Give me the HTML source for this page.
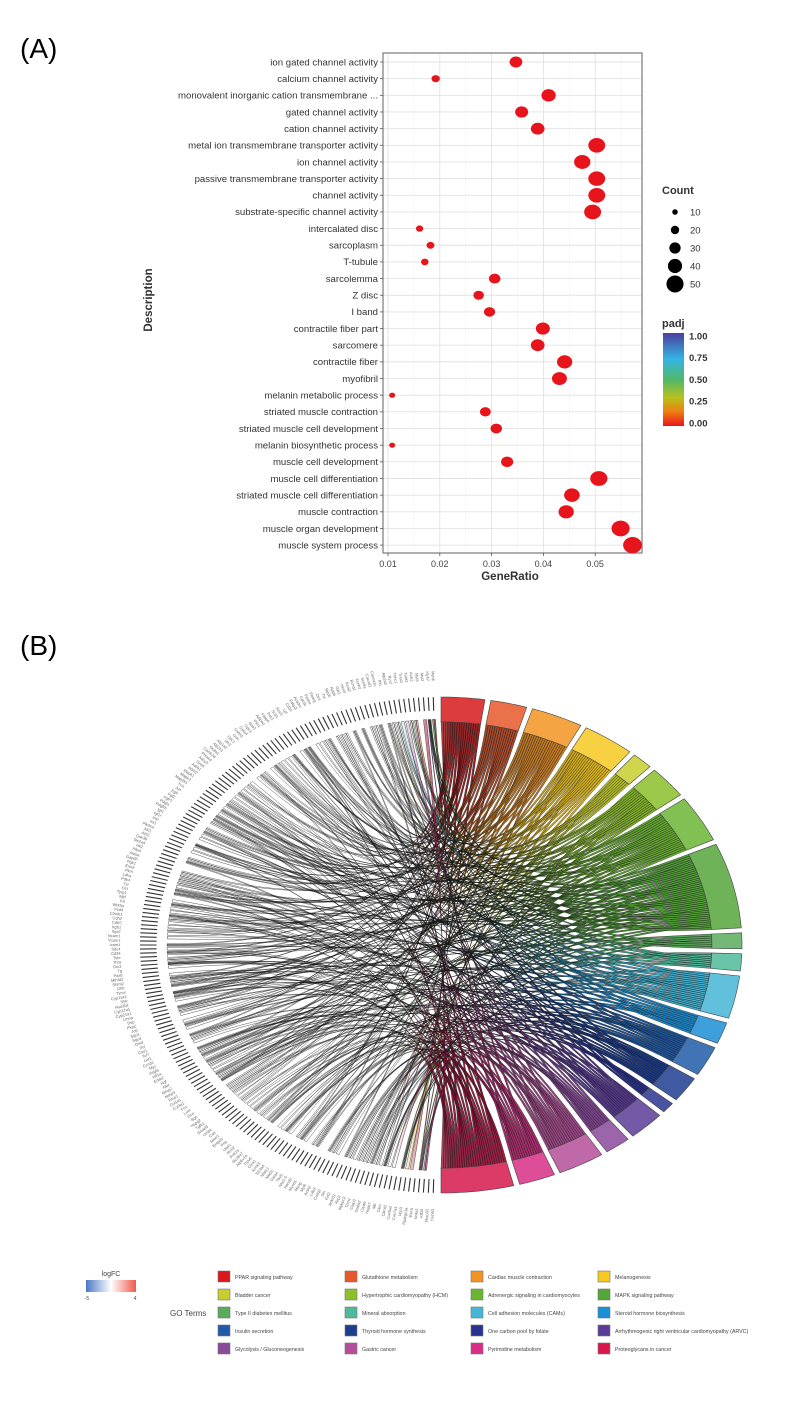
<!DOCTYPE html>
<html><head><meta charset="utf-8"><style>
html,body{margin:0;padding:0;background:#fff}
svg{display:block;font-family:"Liberation Sans",sans-serif}
</style></head><body>
<svg id="root" width="787" height="1402" viewBox="0 0 787 1402" xmlns="http://www.w3.org/2000/svg">
<defs>
<linearGradient id="padjGrad" x1="0" y1="1" x2="0" y2="0">
<stop offset="0" stop-color="#e8141b"/><stop offset="0.15" stop-color="#f07b12"/><stop offset="0.3" stop-color="#b9c21a"/><stop offset="0.5" stop-color="#50b86a"/><stop offset="0.72" stop-color="#34b4e4"/><stop offset="1" stop-color="#4b3f9e"/>
</linearGradient>
<linearGradient id="fcGrad" x1="0" y1="0" x2="1" y2="0">
<stop offset="0" stop-color="#4a78c8"/><stop offset="0.5" stop-color="#ffffff"/><stop offset="1" stop-color="#ee5a4a"/>
</linearGradient>
</defs>
<text x="20" y="58" font-size="28" font-family="Liberation Sans Narrow, Liberation Sans, sans-serif">(A)</text>
<text x="20" y="655" font-size="28" font-family="Liberation Sans Narrow, Liberation Sans, sans-serif">(B)</text>
<g id="dotplot"></g>
<g id="chord"></g>
<g id="legendB"></g>
</svg>
<script>
const NS="http://www.w3.org/2000/svg";
// ---------- Dot plot data ----------
const descriptions=["ion gated channel activity","calcium channel activity","monovalent inorganic cation transmembrane ...","gated channel activity","cation channel activity","metal ion transmembrane transporter activity","ion channel activity","passive transmembrane transporter activity","channel activity","substrate-specific channel activity","intercalated disc","sarcoplasm","T-tubule","sarcolemma","Z disc","I band","contractile fiber part","sarcomere","contractile fiber","myofibril","melanin metabolic process","striated muscle contraction","striated muscle cell development","melanin biosynthetic process","muscle cell development","muscle cell differentiation","striated muscle cell differentiation","muscle contraction","muscle organ development","muscle system process"];
const geneRatios=[0.0347,0.0192,0.041,0.0358,0.0389,0.0503,0.0475,0.0503,0.0503,0.0495,0.0161,0.0182,0.0171,0.0306,0.0275,0.0296,0.0399,0.0389,0.0441,0.0431,0.0108,0.0288,0.0309,0.0108,0.0330,0.0507,0.0455,0.0444,0.0549,0.0572];
const counts=[31,17,36,32,34,44,42,44,44,44,14,16,15,27,24,26,35,34,39,38,10,25,27,10,29,45,40,39,48,50];
const xTicks=[0.01,0.02,0.03,0.04,0.05];
const xTickLabels=["0.01","0.02","0.03","0.04","0.05"];
const countLegend=[10,20,30,40,50];
const padjTicks=["1.00","0.75","0.50","0.25","0.00"];
// ---------- Chord data ----------
const terms=["PPAR signaling pathway","Glutathione metabolism","Cardiac muscle contraction","Melanogenesis","Bladder cancer","Hypertrophic cardiomyopathy (HCM)","Adrenergic signaling in cardiomyocytes","MAPK signaling pathway","Type II diabetes mellitus","Mineral absorption","Cell adhesion molecules (CAMs)","Steroid hormone biosynthesis","Insulin secretion","Thyroid hormone synthesis","One carbon pool by folate","Arrhythmogenic right ventricular cardiomyopathy (ARVC)","Glycolysis / Gluconeogenesis","Gastric cancer","Pyrimidine metabolism","Proteoglycans in cancer"];
const termSizes=[8.4,7,10,10,4,7.6,11,20,3.7,4,10,5,7,6,2.5,7,5,9,7,14];
const termColors=["#d7191c","#e8582a","#f39422","#f5c91f","#c6cf2e","#8cbf2b","#6bb533","#55a63a","#5aac5c","#4fb99a","#45b6d6","#1b8fd6","#1f5ba8","#1d3d8f","#2a3391","#5a3c96","#8a4a9c","#b54e9a","#d82e86","#d6184d"];
const genes="Myh6 Myh7 Myl2 Myl3 Actc1 Tnnt2 Tnni3 Tnnc1 Ryr2 Atp2a2 Pln Cacna1c Cacnb2 Scn5a Kcnh2 Kcnq1 Kcnj2 Hcn4 Gja1 Nppa Nppb Ttn Des Pparg Ppara Cpt1b Acadm Fabp3 Cd36 Lpl Acsl1 Scd1 Pck1 Fabp4 Adipoq Plin1 Gpx1 Gpx3 Gsta4 Gstm1 Gclc Odc1 Idh2 Atp1a2 Atp1b1 Slc8a1 Camk2d Prkaca Adcy5 Gnas Adrb1 Adrb2 Mapk1 Mapk3 Map2k1 Fos Jun Egfr Fgf2 Fgfr1 Pdgfa Pdgfrb Igf1 Igf1r Insr Irs1 Pik3ca Akt1 Akt2 Gsk3b Slc2a4 Hk2 Pfkm Aldoa Gapdh Pgk1 Eno3 Pkm Ldha Pdk4 Tyr Dct Tyrp1 Mitf Kit Wnt5a Fzd4 Ctnnb1 Cdh2 Cdh5 Itgb1 Itga7 Ncam1 Vcam1 Icam1 Sdc4 Cd34 Tshr Thra Dio2 Tg Pax8 Mthfd2 Shmt2 Dhfr Tyms Cyp11a1 Star Hsd3b1 Cyp17a1 Cyp21a1 Lmna Dsp Pkp2 Jup Sgca Sgcd Dmd Vcl Cav1 Tcf7 Lef1 Ccnd1 Myc Vegfa Hif1a Erbb2 Hgf Met Mmp2 Mmp9 Timp1 Col1a1 Col3a1 Fn1 Lum Dcn Bgn Hspg2 Tgfb1 Smad3 Umps Cad Nme1 Entpd1 Pnp Upp1 Rrm2 Polr2a Slc26a7 Atp6v1a Trpv6 Clca1 Kcnk3 Slc4a4 Nfatc1 Mef2c Gata4 Tbx5 Nkx2-5 Hand2 Myod1 Myog Mylk Actn2 Ldb3 Casq2 Sln Fhl2 Ankrd1 Xirp2 Mybpc3 Tpm1 Csrp3 Sorbs2 Cryab Hspb7 Mb Ckm Ckmt2 Cox6a2 Cox7a1 Ucp3 Ppargc1a Esrra Nr4a1 Klf15 Fbxo32 Trim63".split(" ");

function el(tag,attrs,parent){const e=document.createElementNS(NS,tag);for(const k in attrs)e.setAttribute(k,attrs[k]);if(parent)parent.appendChild(e);return e;}

// ---------- Dot plot ----------
(function(){
const g=document.getElementById('dotplot');
const L=383,R=642,T=53,B=553;
const xs=v=>388+(v-0.01)*5180;
const ys=i=>62+i*16.66;
const rs=c=>1.3+c*0.145;
el('rect',{x:L,y:T,width:R-L,height:B-T,fill:'#fff',stroke:'none'},g);
for(let v=0.005;v<0.06;v+=0.01){const x=xs(v);if(x>L&&x<R)el('line',{x1:x,x2:x,y1:T,y2:B,stroke:'#f2f2f2','stroke-width':0.6},g);}
xTicks.forEach(v=>{el('line',{x1:xs(v),x2:xs(v),y1:T,y2:B,stroke:'#e2e2e2','stroke-width':0.9},g);});
descriptions.forEach((d,i)=>{el('line',{x1:L,x2:R,y1:ys(i),y2:ys(i),stroke:'#e2e2e2','stroke-width':0.9},g);});
const fr=el('rect',{x:L,y:T,width:R-L,height:B-T,fill:'none',stroke:'#7a7a7a','stroke-width':1.2},g);

descriptions.forEach((d,i)=>{
 const t=el('text',{x:L-5,y:ys(i)+3.3,'text-anchor':'end','font-size':9.6,fill:'#333'},g);t.textContent=d;
 
 
 el('line',{x1:L-3,x2:L,y1:ys(i),y2:ys(i),stroke:'#555','stroke-width':0.8},g);
});
descriptions.forEach((d,i)=>{
 const r=rs(counts[i]);
 const c=el('ellipse',{cx:xs(geneRatios[i]),cy:ys(i),rx:r*1.1,ry:r*0.95,fill:'#e8141b'},g);
 
 
});
xTicks.forEach((v,i)=>{
 el('line',{x1:xs(v),x2:xs(v),y1:B,y2:B+3,stroke:'#555','stroke-width':0.8},g);
 const t=el('text',{x:xs(v),y:B+14,'text-anchor':'middle','font-size':9,fill:'#444'},g);t.textContent=xTickLabels[i];
 
 
});
let t=el('text',{x:510,y:580,'text-anchor':'middle','font-size':11.5,'font-weight':'bold',fill:'#333'},g);t.textContent='GeneRatio';

t=el('text',{x:0,y:0,'text-anchor':'middle','font-size':11.5,'font-weight':'bold',fill:'#333',transform:'translate(152,300) rotate(-90)'},g);t.textContent='Description';

t=el('text',{x:662,y:194,'font-size':11,'font-weight':'bold',fill:'#333'},g);t.textContent='Count';

countLegend.forEach((c,i)=>{
 const y=212+i*18;
 const d=el('circle',{cx:675,cy:y,r:rs(c),fill:'#000'},g);
 
 
 const tt=el('text',{x:690,y:y+3.5,'font-size':9.5,fill:'#333'},g);tt.textContent=c;
 
 
});
t=el('text',{x:662,y:327,'font-size':11,'font-weight':'bold',fill:'#333'},g);t.textContent='padj';

const cb=el('rect',{x:663,y:333,width:21,height:93,fill:'url(#padjGrad)'},g);

padjTicks.forEach((p,i)=>{
 const y=336+i*21.7;
 const tt=el('text',{x:689,y:y+3.5,'font-size':9.5,'font-weight':'bold',fill:'#333'},g);tt.textContent=p;
 
 
});
})();

// ---------- Chord ----------
(function(){
const g=document.getElementById('chord');
const cx=441,cy=945,RX=301,RY=248;
const P=(a,r)=>{const t=a*Math.PI/180;return [cx+RX*r*Math.cos(t),cy-RY*r*Math.sin(t)];};
const n=genes.length;
const gStep=178/n;
const gAng=k=>91+(k+0.5)*gStep;
const total=termSizes.reduce((a,b)=>a+b,0);
const gap=(180-total)/(terms.length-1);
let cur=90;const tA=[];
termSizes.forEach(s=>{tA.push([cur,cur-s]);cur-=s+gap;});
const links=[];const gCount=new Array(n).fill(0);
termSizes.forEach((s,i)=>{
 const m=Math.max(2,Math.round(s*2));
 for(let j=0;j<m;j++){const gi=(i*37+j*23+(j*j)%7)%n;links.push({t:i,j:j,m:m,g:gi,gs:gCount[gi]});gCount[gi]++;}
});
function mix(hex,amt,target){const v=parseInt(hex.slice(1),16);let r=v>>16,gg=(v>>8)&255,b=v&255;r=Math.round(r+(target-r)*amt);gg=Math.round(gg+(target-gg)*amt);b=Math.round(b+(target-b)*amt);return 'rgb('+r+','+gg+','+b+')';}
const defs=document.querySelector('defs');
termColors.forEach((c,i)=>{
 const lg=el('linearGradient',{id:'tg'+i,gradientUnits:'userSpaceOnUse',x1:160,y1:0,x2:742,y2:0},defs);
 el('stop',{offset:0,'stop-color':c,'stop-opacity':0},lg);
 el('stop',{offset:0.40,'stop-color':c,'stop-opacity':0},lg);
 el('stop',{offset:0.5,'stop-color':mix(c,0.4,0),'stop-opacity':0.9},lg);
 el('stop',{offset:0.75,'stop-color':mix(c,0.12,0),'stop-opacity':1},lg);
 el('stop',{offset:1,'stop-color':c,'stop-opacity':1},lg);
});
const f=p=>p[0].toFixed(1)+' '+p[1].toFixed(1);
const rg=el('g',{},g);
links.forEach(l=>{
 const [a0,a1]=tA[l.t];const w=(a0-a1)/l.m;
 const t1=a0-l.j*w,t2=a0-(l.j+1)*w;
 const gb=gAng(l.g)-gStep*0.35,gw=gStep*0.7/gCount[l.g];
 const g1=gb+l.gs*gw,g2=g1+gw;
 const C=[cx+10,cy];
 const d='M'+f(P(t1,0.9))+' L'+f(P(t2,0.9))+' Q'+f(C)+' '+f(P(g1,0.91))+' L'+f(P(g2,0.91))+' Q'+f(C)+' '+f(P(t1,0.9))+'Z';
 const p=el('path',{d:d,fill:'url(#tg'+l.t+')',stroke:'#111','stroke-width':0.35},rg);
 
 
});
genes.forEach((name,k)=>{
 const a=gAng(k);
 const p1=P(a,0.945),p2=P(a,1.0);
 const tk=el('line',{x1:p1[0],y1:p1[1],x2:p2[0],y2:p2[1],stroke:'#333','stroke-width':1.1},g);
 
 
 const p3=P(a,1.065);
 const ang=Math.atan2(p3[1]-cy,p3[0]-cx)*180/Math.PI+180;
 const t=el('text',{x:p3[0],y:p3[1],'font-size':4,fill:'#666','text-anchor':'end','dominant-baseline':'middle',transform:'rotate('+ang.toFixed(1)+' '+p3[0].toFixed(1)+' '+p3[1].toFixed(1)+')'},g);
 t.textContent=name;
 
 
});
tA.forEach(([a0,a1],i)=>{
 const pts=[];const N=12;
 for(let s=0;s<=N;s++)pts.push(P(a0+(a1-a0)*s/N,1.0));
 for(let s=N;s>=0;s--)pts.push(P(a0+(a1-a0)*s/N,0.9));
 const seg=el('path',{d:'M'+pts.map(f).join(' L')+'Z',fill:mix(termColors[i],0.15,255),stroke:'#444','stroke-width':0.6},g);
 
 
});
})();

// ---------- Legend B ----------
(function(){
const g=document.getElementById('legendB');
let t=el('text',{x:111,y:1276,'text-anchor':'middle','font-size':7,fill:'#444'},g);t.textContent='logFC';

const r=el('rect',{x:86,y:1280,width:50,height:12,fill:'url(#fcGrad)'},g);

t=el('text',{x:87,y:1300,'text-anchor':'middle','font-size':5,fill:'#444'},g);t.textContent='-5';

t=el('text',{x:135,y:1300,'text-anchor':'middle','font-size':5,fill:'#444'},g);t.textContent='4';

t=el('text',{x:170,y:1316,'font-size':8,fill:'#444'},g);t.textContent='GO Terms';

const colX=[218,345,471,598];
terms.forEach((name,i)=>{
 const x=colX[i%4],y=1271+Math.floor(i/4)*18;
 const s=el('rect',{x:x,y:y,width:12,height:11,fill:termColors[i],stroke:'#777','stroke-width':0.6},g);
 
 
 const tt=el('text',{x:x+17,y:y+8,'font-size':5.3,fill:'#444'},g);tt.textContent=name;
 
 
});
})();
</script>
</body></html>
